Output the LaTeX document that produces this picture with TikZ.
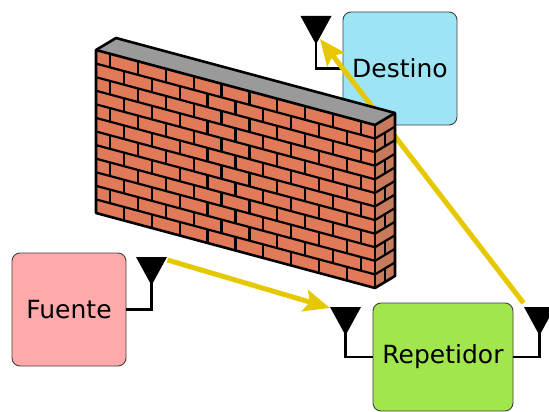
\documentclass[tikz,border=0pt]{standalone}
\usepackage{fontspec}
\setmainfont{DejaVu Sans}
\usetikzlibrary{arrows.meta,calc}

\definecolor{brickfront}{RGB}{224,122,88}
\definecolor{brickside}{RGB}{200,122,92}
\definecolor{walltop}{RGB}{154,154,154}
\definecolor{signal}{RGB}{230,200,0}
\definecolor{cdest}{RGB}{157,229,245}
\definecolor{cfuente}{RGB}{255,170,170}
\definecolor{crep}{RGB}{160,230,76}

\tikzset{
  station/.style={draw=black!75, line width=0.9pt, rounded corners=8pt,
    font=\fontsize{25}{30}\selectfont, inner sep=0pt},
  antennahead/.style={fill=black},
  stem/.style={draw=black, line width=2.6pt},
  signalarrow/.style={draw=signal, line width=5pt,
    -{Stealth[length=26pt,width=22pt,inset=5pt]}},
  walledge/.style={draw=black, line width=2.6pt, line join=round},
  joint/.style={draw=black, line width=2.2pt}
}

\begin{document}
\begin{tikzpicture}[x=1pt,y=-1pt]
\useasboundingbox (0,0) rectangle (549,412);

% stations
\node[station, fill=cdest, minimum width=114pt, minimum height=113pt]
  (destino) at (400,68.5) {Destino};
\node[station, fill=cfuente, minimum width=114pt, minimum height=113pt]
  (fuente) at (69,309.5) {Fuente};
\node[station, fill=crep, minimum width=140pt, minimum height=108pt]
  (repetidor) at (443,357) {Repetidor};

% antennas: top centre of each radiator
\coordinate (antD) at (316,16);
\coordinate (antF) at (151.5,257);
\coordinate (antRL) at (345.5,307);
\coordinate (antRR) at (539.5,307);

\draw[stem] ($(antD)+(0,20)$) |- (destino.west);
\draw[stem] ($(antF)+(0,20)$) |- (fuente.east);
\draw[stem] ($(antRL)+(0,20)$) |- (repetidor.west);
\draw[stem] ($(antRR)+(0,20)$) |- (repetidor.east);

\foreach \a in {antD,antF,antRL,antRR}{
  \fill[antennahead] ($(\a)+(-15.5,0)$) -- ($(\a)+(15.5,0)$)
    -- ($(\a)+(1.3,26)$) -- ($(\a)+(-1.3,26)$) -- cycle;
}

% radio links
\coordinate (sF) at ($(antF)+(16,3)$);
\coordinate (tRL) at ($(antRL)+(-15.5,1)$);
\coordinate (sRR) at ($(antRR)+(-16,-4)$);
\coordinate (tD) at ($(antD)+(4,23)$);
\draw[signalarrow] (sF) -- (tRL);
\draw[signalarrow] (sRR) -- (tD);

% brick wall: front face, side face, top
\fill[brickfront] (96,50) -- (375,125) -- (375,288) -- (96,213) -- cycle;
\fill[brickside] (375,125) -- (395,113) -- (395,276) -- (375,288) -- cycle;
\fill[walltop] (96,50) -- (116,38) -- (395,113) -- (375,125) -- cycle;

% mortar courses
\foreach \i in {1,...,11}{
  \pgfmathsetmacro{\dy}{163*\i/12}
  \draw[joint] (96,50+\dy) -- (375,125+\dy) -- (395,113+\dy);
}
% head joints, staggered by half a brick
\foreach \i in {0,...,11}{
  \pgfmathsetmacro{\dy}{163*\i/12}
  \pgfmathtruncatemacro{\odd}{mod(\i,2)}
  \ifnum\odd=0
    \foreach \u in {0.05,0.15,...,0.96}{
      \draw[joint] (96+279*\u,50+75*\u+\dy) -- ++(0,163/12);
    }
  \else
    \foreach \u in {0.1,0.2,...,0.91}{
      \draw[joint] (96+279*\u,50+75*\u+\dy) -- ++(0,163/12);
    }
    \draw[joint] (385,119+\dy) -- ++(0,163/12);
  \fi
}

% outline
\draw[walledge] (96,50) -- (116,38) -- (395,113) -- (395,276) -- (375,288)
  -- (96,213) -- cycle;
\draw[walledge] (96,50) -- (375,125) -- (395,113);
\draw[walledge] (375,125) -- (375,288);
\end{tikzpicture}
\end{document}
